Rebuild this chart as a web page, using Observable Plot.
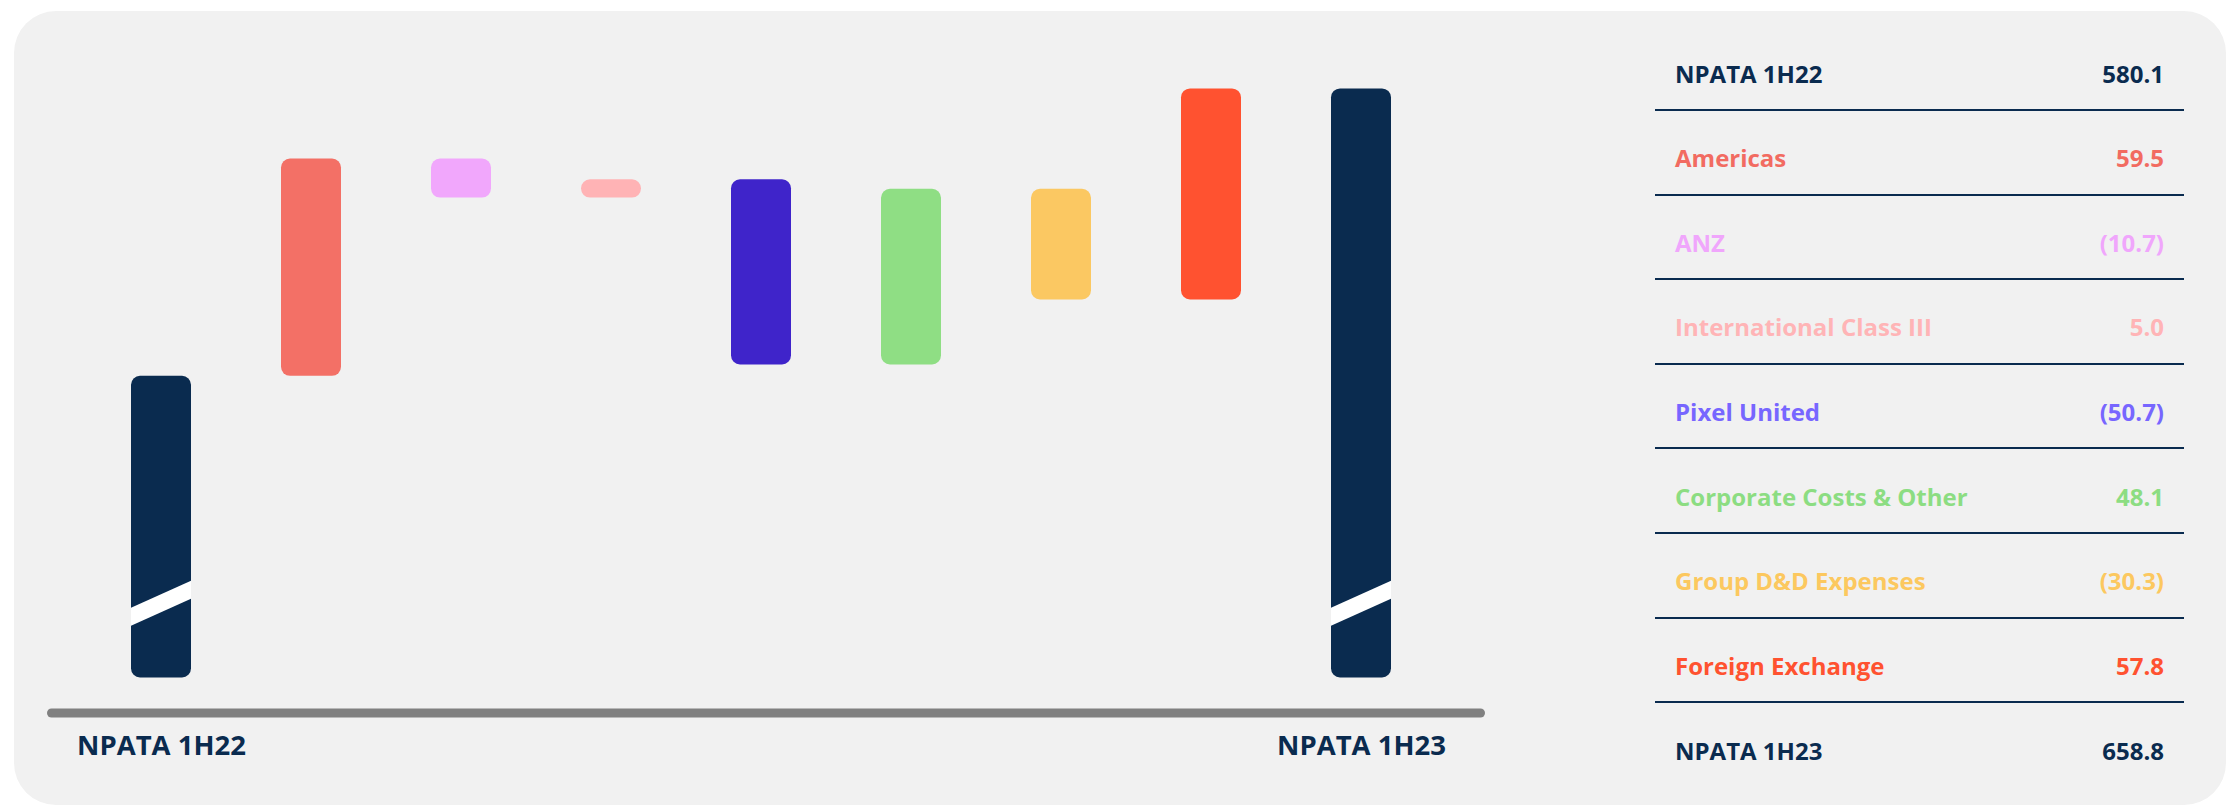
<!DOCTYPE html>
<html>
<head>
<meta charset="utf-8">
<script src="https://cdn.jsdelivr.net/npm/d3@7"></script>
<script src="https://cdn.jsdelivr.net/npm/@observablehq/plot@0.6"></script>
<style>
  html, body { margin: 0; padding: 0; background: #ffffff; }
  #wrap { position: relative; width: 2227px; height: 806px; overflow: hidden; font-family: "Open Sans", Roboto, sans-serif; }
  #panel { position: absolute; left: 14px; top: 11px; width: 2212px; height: 794px; background: #f1f1f1; border-radius: 42px; }
  #chart { position: absolute; left: 0; top: 0; }
  #table { position: absolute; left: 1655px; top: 26.4px; width: 529px; }
  .row { box-sizing: border-box; height: 84.6px; display: flex; justify-content: space-between; align-items: center;
         padding: 11px 20px 0 20px; border-bottom: 2px solid #0a2b4f; font-size: 24px; font-weight: 700; }
  .row:last-child { border-bottom: none; }
</style>
</head>
<body>
<div id="wrap">
  <div id="panel"></div>
  <div id="chart"></div>
  <div id="table"></div>
</div>
<script>
// ---- data ----
const categories = ["NPATA 1H22", "Americas", "ANZ", "International Class III", "Pixel United",
                    "Corporate Costs & Other", "Group D&D Expenses", "Foreign Exchange", "NPATA 1H23"];
const values = [580.1, 59.5, -10.7, 5.0, -50.7, 48.1, -30.3, 57.8, 658.8];
const isTotal = [true, false, false, false, false, false, false, false, true];
const barColors = ["#0a2b4f", "#f37066", "#f1a7fc", "#ffb3b5", "#3f24ca", "#8fde84", "#fbc862", "#ff5230", "#0a2b4f"];
const textColors = ["#0a2b4f", "#f26b61", "#f0a6fc", "#ffb4b6", "#7766ff", "#8cdd82", "#fcc85f", "#ff5230", "#0a2b4f"];
const axisFloor = 497.5;   // broken-axis floor of the total bars
const axisTop = 660;
const breakValue = 518;    // where the axis-break stripe crosses the total bars

// ---- waterfall table built from the arrays ----
let running = 0;
const rows = categories.map((name, i) => {
  let y1, y2;
  if (isTotal[i]) { y1 = axisFloor; y2 = values[i]; running = values[i]; }
  else { y1 = running; running += values[i]; y2 = running; }
  return {name, y1, y2, color: barColors[i]};
});
const totals = rows.filter((d, i) => isTotal[i]);

const navy = "#0a2b4f";
const svg = Plot.plot({
  width: 1520,
  height: 806,
  marginLeft: 97,
  marginRight: 96,
  marginTop: 84,
  marginBottom: 128.5,
  style: {background: "transparent", fontFamily: "'Open Sans', Roboto, sans-serif", overflow: "visible"},
  x: {domain: categories, paddingInner: 0.6, paddingOuter: 0.2, axis: null},
  y: {domain: [axisFloor, axisTop], axis: null},
  marks: [
    Plot.barY(rows, {x: "name", y1: "y1", y2: "y2", fill: "color", rx: 9, ry: 9}),
    Plot.tickY(totals, {x: "name", y: () => breakValue, stroke: "#ffffff", strokeWidth: 1}),
    Plot.ruleY([axisFloor], {dy: 35, insetLeft: -45.5, insetRight: -56.5, stroke: "#808080", strokeWidth: 9, strokeLinecap: "round"}),
    Plot.text(totals, {x: "name", text: "name", frameAnchor: "bottom", dy: 77, fontSize: 27.5, fontWeight: 700, fill: navy})
  ]
});
document.getElementById("chart").appendChild(svg);

// turn the break ticks into slanted white stripes across the total bars
d3.select(svg).selectAll("g[aria-label='tick'] line").each(function() {
  const x1 = +this.getAttribute("x1"), x2 = +this.getAttribute("x2");
  const y = +this.getAttribute("y1");
  const drop = 13.5, half = 9;
  const p = `M${x1},${y + drop - half}L${x2},${y - drop - half}L${x2},${y - drop + half}L${x1},${y + drop + half}Z`;
  d3.select(this.parentNode).append("path").attr("d", p).attr("fill", "#ffffff").attr("stroke", "none");
  d3.select(this).remove();
});

// ---- side table ----
const fmt = v => v < 0 ? `(${Math.abs(v).toFixed(1)})` : v.toFixed(1);
const table = d3.select("#table");
categories.forEach((name, i) => {
  const r = table.append("div").attr("class", "row").style("color", textColors[i]);
  r.append("span").text(name);
  r.append("span").text(fmt(values[i]));
});
</script>
</body>
</html>
